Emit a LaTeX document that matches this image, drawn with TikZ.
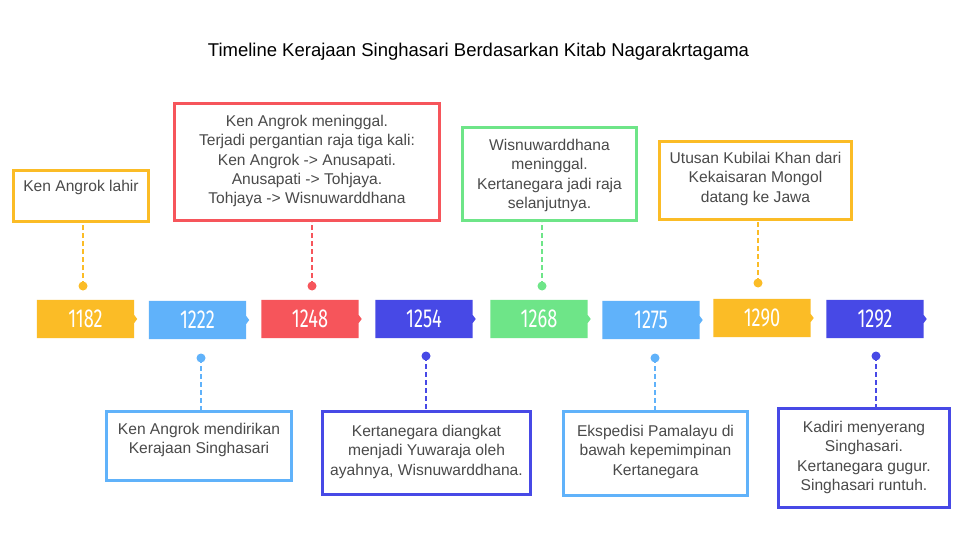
\documentclass[tikz,border=0pt]{standalone}
\usepackage{fontspec}
\setmainfont{Liberation Sans}
\newfontfamily\yearfont{Fira Sans}
\usetikzlibrary{backgrounds,calc}
\definecolor{cyel}{HTML}{FBBC26}
\definecolor{cblu}{HTML}{60B2FA}
\definecolor{cred}{HTML}{F6555B}
\definecolor{cind}{HTML}{4749E6}
\definecolor{cgrn}{HTML}{6EE588}
\definecolor{ctxt}{HTML}{4A4A4A}
\tikzset{
  callout/.style={draw=#1, line width=3pt, rectangle, inner sep=0pt},
  ctext/.style={text=ctxt, align=center, inner sep=0pt, anchor=north,
    font=\fontsize{15.6}{19.3}\selectfont},
  link/.style={draw=#1, line width=1.4pt, dash pattern=on 5pt off 3pt},
  dotmark/.style={circle, fill=#1, inner sep=0pt, minimum size=9pt},
  yearslot/.style={rectangle, inner sep=0pt, minimum width=97pt, minimum height=38pt},
  yeartext/.style={text=white, inner sep=0pt, font=\yearfont\fontsize{26}{26}\selectfont},
}
\newcommand{\yearshape}[2]{%
  \fill[#2] (#1.north west) -- (#1.north east) -- ($(#1.east)+(0,4)$)
    -- ($(#1.east)+(3,0)$) -- ($(#1.east)+(0,-4)$)
    -- (#1.south east) -- (#1.south west) -- ($(#1.west)+(0,-4)$)
    -- ($(#1.west)+(3,0)$) -- ($(#1.west)+(0,4)$) -- cycle;}
\begin{document}
\begin{tikzpicture}[x=1pt,y=-1pt]
\useasboundingbox (0,0) rectangle (960,540);
\fill[white] (0,0) rectangle (960,540);
\node[font=\fontsize{18.5}{20}\selectfont, text=black] (title) at (478.5,52) {Timeline Kerajaan Singhasari Berdasarkan Kitab Nagarakrtagama};

% year slots
\foreach \n/\x/\y/\c in {y1182/85.5/319/cyel, y1222/197.5/320/cblu, y1248/310/319/cred, y1254/424/319/cind,
    y1268/539/319/cgrn, y1275/651/320/cblu, y1290/762/318/cyel, y1292/875/319/cind}{
  \node[yearslot] (\n) at (\x,\y) {};
  \yearshape{\n}{\c}
}
\foreach \n/\t in {y1182/1182, y1222/1222, y1248/1248, y1254/1254, y1268/1268, y1275/1275, y1290/1290, y1292/1292}{
  \node[yeartext] (l\n) at (\n.center) {\scalebox{0.7}[1]{\t}};
}

% callout boxes (outer extents minus line width)
\node[callout=cyel, minimum width=135pt, minimum height=51pt] (bA) at (81,196) {};
\node[callout=cred, minimum width=265pt, minimum height=117pt] (bB) at (307,162) {};
\node[callout=cgrn, minimum width=174pt, minimum height=93pt] (bC) at (549.5,174) {};
\node[callout=cyel, minimum width=192pt, minimum height=78pt] (bD) at (755.5,180.5) {};
\node[callout=cblu, minimum width=185pt, minimum height=69pt] (bE) at (199,446) {};
\node[callout=cind, minimum width=208pt, minimum height=83pt] (bF) at (426.5,453) {};
\node[callout=cblu, minimum width=184pt, minimum height=84pt] (bG) at (655.5,453.5) {};
\node[callout=cind, minimum width=171pt, minimum height=99pt] (bH) at (864,458) {};

\node[ctext] (tA) at (81,180) {Ken Angrok lahir};
\node[ctext] (tB) at (307,115) {Ken Angrok meninggal.\\Terjadi pergantian raja tiga kali:\\Ken Angrok -> Anusapati.\\Anusapati -> Tohjaya.\\Tohjaya -> Wisnuwarddhana};
\node[ctext] (tC) at (549.5,139) {Wisnuwarddhana\\meninggal.\\Kertanegara jadi raja\\selanjutnya.};
\node[ctext] (tD) at (755.5,152) {Utusan Kubilai Khan dari\\Kekaisaran Mongol\\datang ke Jawa};
\node[ctext] (tE) at (199,423) {Ken Angrok mendirikan\\Kerajaan Singhasari};
\node[ctext] (tF) at (426.5,425) {Kertanegara diangkat\\menjadi Yuwaraja oleh\\ayahnya, Wisnuwarddhana.};
\node[ctext] (tG) at (655.5,425) {Ekspedisi Pamalayu di\\bawah kepemimpinan\\Kertanegara};
\node[ctext] (tH) at (864,421) {Kadiri menyerang\\Singhasari.\\Kertanegara gugur.\\Singhasari runtuh.};

% dots
\node[dotmark=cyel] (dA) at (83,286) {};
\node[dotmark=cred] (dB) at (312,286) {};
\node[dotmark=cgrn] (dC) at (542,286) {};
\node[dotmark=cyel] (dD) at (758,283) {};
\node[dotmark=cblu] (dE) at (201,358) {};
\node[dotmark=cind] (dF) at (426,356) {};
\node[dotmark=cblu] (dG) at (655,358) {};
\node[dotmark=cind] (dH) at (876,356) {};

% links
\draw[link=cyel] (dA.center) -- (dA.center |- bA.south);
\draw[link=cred] (dB.center) -- (dB.center |- bB.south);
\draw[link=cgrn] (dC.center) -- (dC.center |- bC.south);
\draw[link=cyel] (dD.center) -- (dD.center |- bD.south);
\draw[link=cblu] (dE.center) -- (dE.center |- bE.north);
\draw[link=cind] (dF.center) -- (dF.center |- bF.north);
\draw[link=cblu] (dG.center) -- (dG.center |- bG.north);
\draw[link=cind] (dH.center) -- (dH.center |- bH.north);
\end{tikzpicture}
\end{document}
